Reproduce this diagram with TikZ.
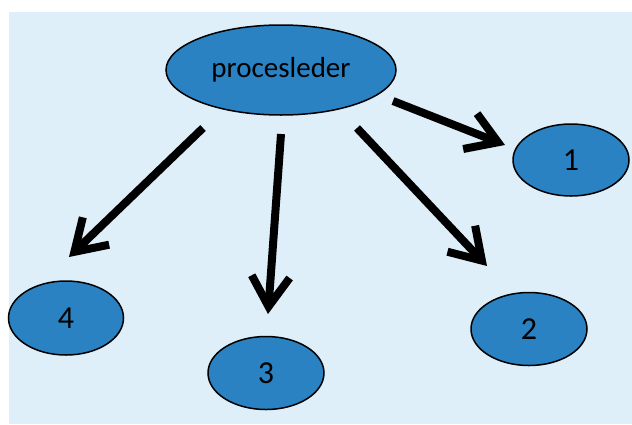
\documentclass[tikz,border=0pt]{standalone}
\usepackage{fontspec}
\setmainfont{Carlito}
\usetikzlibrary{shapes.geometric,arrows.meta}
\definecolor{bgblue}{HTML}{DEEFF9}
\definecolor{nodeblue}{HTML}{2A82C2}
\begin{document}
\begin{tikzpicture}[x=1pt, y=-1pt,
    proc/.style={ellipse, draw=black, line width=1.5pt, fill=nodeblue, inner sep=0pt, font=\fontsize{32}{36}\selectfont},
    pil/.style={line width=8pt, -{Straight Barb[length=30pt,width=38pt,sharp]}}]
    \useasboundingbox (0,0) rectangle (632,424);
    \fill[bgblue] (9,12) rectangle (632,424);
    \node[proc, minimum width=230pt, minimum height=90pt, font=\fontsize{29}{33}\selectfont] (leder) at (281,70) {procesleder};
    \node[proc, minimum width=116pt, minimum height=72pt] (n1) at (571,160) {1};
    \node[proc, minimum width=116pt, minimum height=73pt] (n2) at (529,329) {2};
    \node[proc, minimum width=116pt, minimum height=73pt] (n3) at (266,373) {3};
    \node[proc, minimum width=115pt, minimum height=74pt] (n4) at (66,318) {4};
    \draw[pil] ([shift={(112,31)}]leder.center) -- ([shift={(-66,-15)}]n1.center);
    \draw[pil] ([shift={(76,58)}]leder.center) -- ([shift={(-42,-63)}]n2.center);
    \draw[pil] ([shift={(0,64)}]leder.center) -- ([shift={(2,-59)}]n3.center);
    \draw[pil] ([shift={(-78,58)}]leder.center) -- ([shift={(3,-61)}]n4.center);
\end{tikzpicture}
\end{document}
